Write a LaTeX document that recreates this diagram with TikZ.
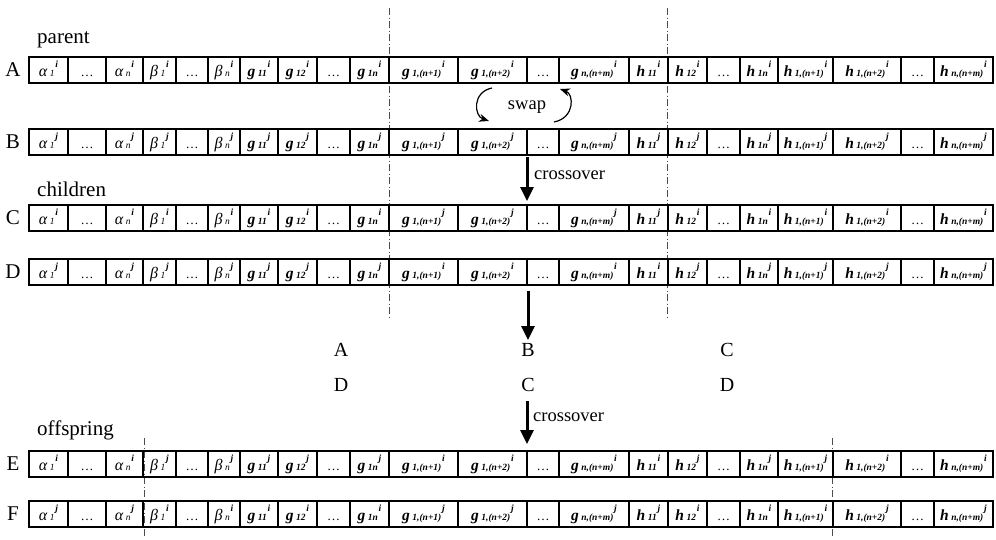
\documentclass[tikz,border=0pt]{standalone}
\usepackage{fontspec}
\setmainfont{Liberation Serif}
\usetikzlibrary{arrows.meta}

% gene symbols: base letter, small subscript, raised superscript
\newcommand\ssub[1]{\kern2.5pt{\fontsize{9.5}{9.5}\selectfont\itshape #1}}
\newcommand\ssup[1]{\kern0.8pt\raisebox{9.5pt}{\fontsize{9.5}{9.5}\selectfont\bfseries\itshape #1}}
\newcommand\gb[3]{{\fontsize{15.5}{15.5}\selectfont\bfseries\itshape #1}\ssub{\bfseries #2}\ssup{#3}}
\newcommand\gk[3]{{\fontsize{16}{16}\selectfont\itshape #1}\ssub{#2}\ssup{#3}}
\newcommand\dts{{\fontsize{13}{13}\selectfont\ldots}}

\tikzset{
  gene/.style={draw, line width=1.7pt, minimum height=26pt, inner sep=0pt,
    outer sep=0pt, text height=14pt, text depth=1pt, anchor=north west},
  rowlabel/.style={font=\fontsize{21}{21}\selectfont, inner sep=0pt},
  midlabel/.style={font=\fontsize{20}{20}\selectfont, inner sep=0pt},
  cut/.style={line width=0.8pt, black!70,
    dash pattern=on 7pt off 2.5pt on 1pt off 2.5pt},
  bigarrow/.style={line width=3pt, -{Triangle[width=13pt,length=14pt]}},
  swaparrow/.style={line width=1.2pt, -{Stealth[length=10pt,width=8pt]}},
  note/.style={font=\fontsize{18.5}{18.5}\selectfont, inner sep=0pt}
}

% one gene cell: name, left x, right x, top y, content
\newcommand\gcell[5]{%
  \node[gene, minimum width={(#3-#2)*1pt}] (#1) at (#2,#4) {#5};}

% one chromosome: name, top y, superscripts of the seven segments
\newcommand\chrom[9]{%
  \node[rowlabel] (lab#1) at (13,{#2+13}) {#1};
  \gcell{#1-1}{29}{68}{#2}{\gk{α}{1}{#3}}
  \gcell{#1-2}{68}{106}{#2}{\dts}
  \gcell{#1-3}{106}{143}{#2}{\gk{α}{n}{#3}}
  \gcell{#1-4}{143}{176}{#2}{\gk{β}{1}{#4}}
  \gcell{#1-5}{176}{208}{#2}{\dts}
  \gcell{#1-6}{208}{240}{#2}{\gk{β}{n}{#4}}
  \gcell{#1-7}{240}{278}{#2}{\gb{g}{11}{#5}}
  \gcell{#1-8}{278}{317}{#2}{\gb{g}{12}{#5}}
  \gcell{#1-9}{317}{350}{#2}{\dts}
  \gcell{#1-10}{350}{389}{#2}{\gb{g}{1n}{#5}}
  \gcell{#1-11}{389}{458}{#2}{\gb{g}{1,(n+1)}{#6}}
  \gcell{#1-12}{458}{527}{#2}{\gb{g}{1,(n+2)}{#6}}
  \gcell{#1-13}{527}{559}{#2}{\dts}
  \gcell{#1-14}{559}{629}{#2}{\gb{g}{n,(n+m)}{#6}}
  \gcell{#1-15}{629}{668}{#2}{\gb{h}{11}{#7}}
  \gcell{#1-16}{668}{707}{#2}{\gb{h}{12}{#8}}
  \gcell{#1-17}{707}{740}{#2}{\dts}
  \gcell{#1-18}{740}{778}{#2}{\gb{h}{1n}{#8}}
  \gcell{#1-19}{778}{833}{#2}{\gb{h}{1,(n+1)}{#8}}
  \gcell{#1-20}{833}{901}{#2}{\gb{h}{1,(n+2)}{#9}}
  \gcell{#1-21}{901}{934}{#2}{\dts}
  \gcell{#1-22}{934}{993}{#2}{\gb{h}{n,(n+m)}{#9}}
}

\begin{document}
\begin{tikzpicture}[x=1pt, y=-1pt]
\useasboundingbox[fill=white] (0,0) rectangle (996,539);

% cut points for the parents
\coordinate (cutL1) at (389,8);   \coordinate (cutL2) at (389,319);
\coordinate (cutR1) at (667,8);   \coordinate (cutR2) at (667,319);
\draw[cut] (cutL1) -- (cutL2);
\draw[cut] (cutR1) -- (cutR2);

% cut points for the offspring
\coordinate (cutE1) at (144,438); \coordinate (cutE2) at (144,538);
\coordinate (cutF1) at (832,438); \coordinate (cutF2) at (832,538);
\draw[cut] (cutE1) -- (cutE2);
\draw[cut] (cutF1) -- (cutF2);

% group titles
\node[rowlabel, anchor=base west] (tparent) at (37,43) {parent};
\node[rowlabel, anchor=base west] (tchildren) at (37,196) {children};
\node[rowlabel, anchor=base west] (toffspring) at (37,435) {offspring};

% chromosomes
\chrom{A}{57}{i}{i}{i}{i}{i}{i}{i}
\chrom{B}{129}{j}{j}{j}{j}{j}{j}{j}
\chrom{C}{205}{i}{i}{i}{j}{j}{i}{i}
\chrom{D}{259}{j}{j}{j}{i}{i}{j}{j}
\chrom{E}{451}{i}{j}{j}{i}{i}{j}{i}
\chrom{F}{501}{j}{i}{i}{j}{j}{i}{j}

% swap between A and B
\coordinate (s1a) at (492,88);  \coordinate (s1b) at (489,121);
\coordinate (s2a) at (554,122); \coordinate (s2b) at (560,89);
\draw[swaparrow] (s1a) .. controls (472,92) and (474,116) .. (s1b);
\draw[swaparrow] (s2a) .. controls (575,118) and (574,94) .. (s2b);
\node[note] (swap) at (527,107) {swap};

% crossover B -> C
\coordinate (x1a) at (527,157); \coordinate (x1b) at (527,201);
\draw[bigarrow] (x1a) -- (x1b);
\node[note, anchor=west] (xo1) at (534,175) {crossover};

% recombination of the segments
\coordinate (m1a) at (528,291); \coordinate (m1b) at (528,340);
\draw[bigarrow] (m1a) -- (m1b);
\node[midlabel] (mA1) at (341,350) {A};
\node[midlabel] (mB1) at (528,350) {B};
\node[midlabel] (mC1) at (727,350) {C};
\node[midlabel] (mD2) at (341,385) {D};
\node[midlabel] (mC2) at (528,385) {C};
\node[midlabel] (mD3) at (727,385) {D};

% crossover -> offspring
\coordinate (x2a) at (527,401); \coordinate (x2b) at (527,444);
\draw[bigarrow] (x2a) -- (x2b);
\node[note, anchor=west] (xo2) at (533,417) {crossover};
\end{tikzpicture}
\end{document}
